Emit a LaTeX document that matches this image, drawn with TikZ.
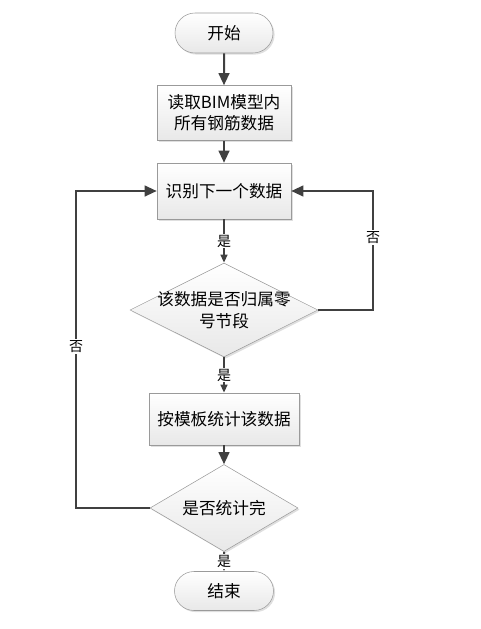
\documentclass[tikz,border=0pt]{standalone}
\usepackage{fontspec}
\setmainfont{Noto Sans CJK SC}
\usetikzlibrary{shapes.geometric,shapes.misc,arrows.meta,shadows}
\definecolor{linegray}{HTML}{404040}
\definecolor{edgegray}{HTML}{9A9A9A}
\begin{document}
\begin{tikzpicture}[x=0.75pt,y=-0.75pt]
\tikzstyle{every node}+=[font=\fontsize{12.5}{16}\selectfont]
\tikzstyle{box}=[draw=edgegray, top color=white, bottom color=black!9, drop shadow={shadow xshift=1.2pt,shadow yshift=-1.2pt,opacity=0.25}, align=center, inner sep=0pt]
\tikzstyle{term}=[box, rounded rectangle]
\tikzstyle{proc}=[box, rectangle]
\tikzstyle{decide}=[box, diamond]
\tikzstyle{flow}=[draw=linegray, line width=1.5pt, -{Triangle[length=9pt,width=8pt]}]
\tikzstyle{flowsmall}=[flow, -{Triangle[length=6pt,width=5pt]}]
\tikzstyle{yes}=[fill=white, inner sep=1pt, font=\fontsize{10.5}{12}\selectfont]
\useasboundingbox (0,0) rectangle (480,629);
\node [term, minimum width=73.5pt, minimum height=30pt] (start) at (224,33) {开始};
\node [proc, minimum width=100.5pt, minimum height=41.25pt] (read) at (224,113) {读取BIM模型内\\所有钢筋数据};
\node [proc, minimum width=100.5pt, minimum height=42pt] (next) at (224,191) {识别下一个数据};
\node [decide, minimum width=141pt, minimum height=70.5pt, label={[align=center]center:该数据是否归属零\\号节段}] (check) at (224,310) {};
\node [proc, minimum width=112.5pt, minimum height=39pt] (count) at (224,419) {按模板统计该数据};
\node [decide, minimum width=111pt, minimum height=65.25pt, label={center:是否统计完}] (done) at (224,508) {};
\node [term, minimum width=74.25pt, minimum height=29.25pt] (stop) at (224,591) {结束};
\coordinate (rcorner) at (373,310);
\coordinate (rloop) at (373,191);
\coordinate (lcorner) at (76,508);
\coordinate (lloop) at (76,191);
\draw [flow] (start) -- (read);
\draw [flow] (read) -- (next);
\draw [flowsmall] (next) -- node [yes] {是} (check);
\draw [flowsmall] (check) -- node [yes] {是} (count);
\draw [flow] (count) -- (done);
\draw [flowsmall] (done) -- node [yes] {是} (stop);
\draw [flow] (check.east) -- (rcorner) -- node [yes, pos=0.61] {否} (rloop) -- (next.east);
\draw [flow] (done.west) -- (lcorner) -- node [yes, pos=0.51] {否} (lloop) -- (next.west);
\end{tikzpicture}
\end{document}
